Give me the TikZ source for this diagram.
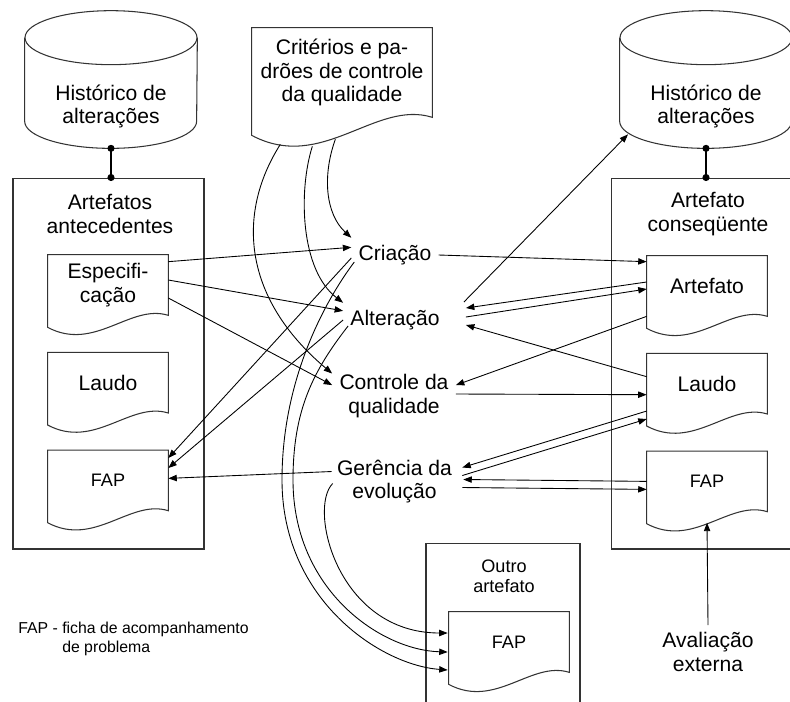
\documentclass[tikz,border=0pt]{standalone}
\usepackage{fontspec}
\setmainfont{Liberation Sans}
\usetikzlibrary{arrows.meta, positioning}

\begin{document}
\begin{tikzpicture}[
		x=0.02cm, y=-0.02cm,
		node distance=0.74cm,
		every node/.style={font=\fontsize{12}{13.3}\selectfont},
		small/.style={font=\fontsize{10.3}{11.6}\selectfont},
		outline/.style={draw=black!80, line width=0.6pt},
		group/.style={
			rectangle,
			draw=black!80,
			line width=0.6pt,
			inner sep=0pt
		},
		doc/.style={
			rectangle,
			align=center,
			inner sep=0pt,
			minimum width=2.4cm,
			minimum height=1.2cm,
			append after command={\pgfextra{
				\draw[outline] ([yshift=-0.24cm*#1]\tikzlastnode.south west)
				.. controls +(0.94cm*#1,-0.5cm*#1) and +(-0.76cm*#1,0.24cm*#1) .. (\tikzlastnode.south east)
				-- (\tikzlastnode.north east) -- (\tikzlastnode.north west) -- cycle;}}
		},
		doc/.default=1,
		store/.style={
			rectangle,
			align=center,
			inner sep=0pt,
			minimum width=3.44cm,
			minimum height=1.66cm,
			append after command={\pgfextra{
				\draw[outline] ([yshift=0.54cm]\tikzlastnode.north west) -- ([yshift=0.54cm]\tikzlastnode.south west)
				arc[start angle=180, end angle=360, x radius=1.72cm, y radius=0.54cm]
				-- ([yshift=0.54cm]\tikzlastnode.north east);
				\draw[outline] ([yshift=0.54cm]\tikzlastnode.north) ellipse [x radius=1.72cm, y radius=0.54cm];}}
		},
		act/.style={align=center, inner sep=4pt},
		arrow/.style={
			-{Triangle[length=4.8pt, width=3.6pt]},
			line width=0.5pt
		},
		link/.style={
			{Circle[length=4pt]}-{Circle[length=4pt]},
			line width=0.6pt,
			shorten <=-2pt,
			shorten >=-2pt
		}
		]
		
		\useasboundingbox (0,0) rectangle (790,701);
		\clip (0,0) rectangle (790,701);
		
		% Nodes
		\node[store] (histA) at (111,106.5) {Histórico de\\alterações};
		\node[group, minimum width=3.82cm, minimum height=7.42cm] (boxA) at (108.5,363.5) {};
		\node[align=center] (titleA) at (110,214) {Artefatos\\antecedentes};
		\node[doc] (specA) at (108,285) {Especifi-\\cação};
		\node[doc, below=of specA] (laudoA) {Laudo};
		\node[doc, small, below=of laudoA] (fapA) {FAP};
		
		\node[doc=1.5, minimum width=3.6cm, minimum height=1.78cm] (crit) at (342,72.5) {Critérios e pa-\\drões de controle\\da qualidade};
		
		\node[act] (cria) at (395,255) {Criação};
		\node[act] (alt) at (395,320) {Alteração};
		\node[act] (ctrl) at (394,396) {Controle da\\qualidade};
		\node[act] (ger) at (394.5,481.5) {Gerência da\\evolução};
		
		\node[store] (histB) at (706,106.5) {Histórico de\\alterações};
		\node[group, minimum width=3.86cm, minimum height=7.42cm] (boxB) at (707.5,363.5) {};
		\node[align=center] (titleB) at (708,214) {Artefato\\conseqüente};
		\node[doc] (artB) at (707,286) {Artefato};
		\node[doc, below=of artB] (laudoB) {Laudo};
		\node[doc, small, below=of laudoB] (fapB) {FAP};
		
		\node[group, minimum width=3.08cm, minimum height=4.34cm] (boxC) at (503,651.5) {};
		\node[small, align=center] (titleC) at (504,576) {Outro\\artefato};
		\node[doc, small] (fapC) at (509,642) {FAP};
		
		\node[act] (aval) at (708,652) {Avaliação\\externa};
		\node[anchor=north west, inner sep=0pt, align=left, font=\fontsize{9}{10.8}\selectfont] (legend) at (18,622) {FAP - ficha de acompanhamento\\\phantom{FAP - }de problema};
		
		% Links to the histories
		\draw[link] (histA.south) -- (histA.south |- boxA.north);
		\draw[link] (histB.south) -- (histB.south |- boxB.north);
		
		% Arrows from the criteria
		\draw[arrow] ([shift={(-97,22)}]crit.south east) .. controls +(-13,36) and +(-26,-24) .. (cria.north west);
		\draw[arrow] ([shift={(-120,29)}]crit.south east) .. controls +(-14,44) and +(-43,-33) .. (alt.north west);
		\draw[arrow] ([shift={(-152,27)}]crit.south east) .. controls +(-45,71) and +(-88,-74) .. (ctrl.160);
		
		% Arrows from the specification
		\draw[arrow] ([shift={(0,7)}]specA.north east) -- (cria.170);
		\draw[arrow] ([shift={(0,-5)}]specA.east) -- (alt.170);
		\draw[arrow] ([shift={(0,13)}]specA.east) -- (ctrl.170);
		
		% Arrows into the left FAP
		\draw[arrow] ([shift={(0,3)}]cria.west) -- ([shift={(0,8)}]fapA.north east);
		\draw[arrow] (alt.west) -- ([shift={(0,18)}]fapA.north east);
		\draw[arrow] ([shift={(2,-10)}]ger.west) -- ([shift={(0,-2)}]fapA.east);
		
		% Arrows to and from the consequent artefact
		\draw[arrow] (cria.east) -- ([shift={(0,6)}]artB.north west);
		\draw[arrow] ([shift={(0,-4)}]artB.west) -- ([shift={(19,-12)}]alt.east);
		\draw[arrow] ([shift={(19,-3)}]alt.east) -- ([shift={(0,3)}]artB.west);
		\draw[arrow] ([shift={(17,-18)}]alt.east) -- ([shift={(-78,-14)}]histB.south);
		\draw[arrow] (artB.south west) -- (ctrl.10);
		\draw[arrow] ([shift={(0,-7)}]laudoB.west) -- ([shift={(19,5)}]alt.east);
		\draw[arrow] ([shift={(0,-2)}]ctrl.east) -- ([shift={(0,11)}]laudoB.west);
		\draw[arrow] ([shift={(0,-3)}]laudoB.south west) -- ([shift={(3,-14)}]ger.east);
		\draw[arrow] ([shift={(3,-6)}]ger.east) -- ([shift={(0,5)}]laudoB.south west);
		\draw[arrow] (fapB.west) -- ([shift={(4,-2)}]ger.east);
		\draw[arrow] ([shift={(3,6)}]ger.east) -- ([shift={(0,8)}]fapB.west);
		\draw[arrow] (aval.north) -- ([shift={(0,11)}]fapB.south);
		
		% Arrows into the other artefact
		\draw[arrow] ([shift={(3,2)}]ger.west) .. controls +(-25,25) and +(-110,0) .. ([shift={(-1,-9)}]fapC.west);
		\draw[arrow] ([shift={(5,6)}]alt.west) .. controls +(-35,45) and +(0,-70) .. (293,480)
		.. controls +(0,110) and +(-67,-2) .. ([shift={(-1,10)}]fapC.west);
		\draw[arrow] ([shift={(3,7)}]cria.west) .. controls +(-30,40) and +(0,-100) .. (282,480)
		.. controls +(0,120) and +(-67,-5) .. ([shift={(-1,28)}]fapC.west);
	\end{tikzpicture}
\end{document}
